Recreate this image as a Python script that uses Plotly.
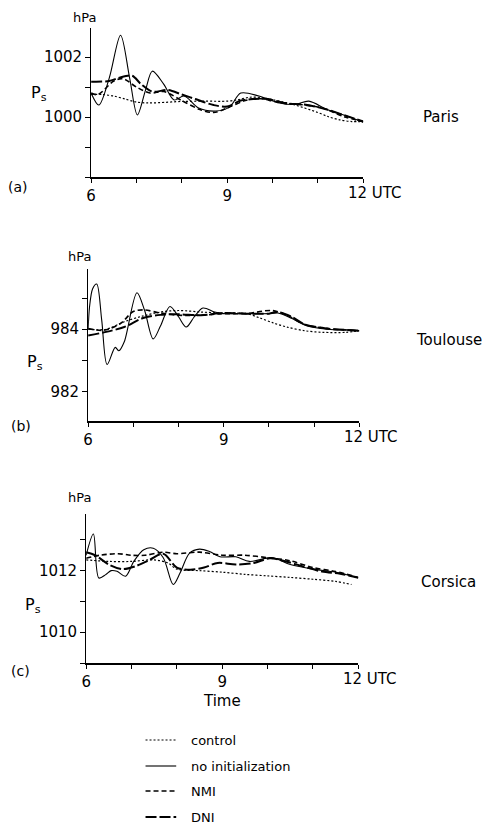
import plotly.graph_objects as go

# ---------------- data ----------------
# Panel (a) Paris
a_ctrl_t = [6, 6.25, 6.5, 6.75, 7, 7.25, 7.5, 8, 8.5, 9, 9.25, 9.5, 9.75, 10, 10.5, 11, 11.25, 11.5, 11.75, 12]
a_ctrl_v = [1000.75, 1000.75, 1000.7, 1000.6, 1000.5, 1000.47, 1000.48, 1000.52, 1000.53, 1000.53, 1000.58, 1000.66,
            1000.65, 1000.58, 1000.4, 1000.15, 1000.0, 999.9, 999.85, 999.85]
a_noin_t = [6, 6.17, 6.4, 6.65, 6.85, 7.02, 7.2, 7.35, 7.6, 7.83, 8.05, 8.37, 8.75, 9.05, 9.3, 9.7, 10.15, 10.5, 10.8,
            11.2, 11.6, 12]
a_noin_v = [1000.8, 1000.4, 1001.3, 1002.73, 1001.3, 1000.07, 1000.9, 1001.53, 1001.1, 1000.57, 1000.7, 1000.3, 1000.2,
            1000.33, 1000.8, 1000.7, 1000.47, 1000.42, 1000.53, 1000.25, 1000.05, 999.83]
a_nmi_t = [6, 6.15, 6.5, 6.7, 7.0, 7.3, 7.6, 8.0, 8.4, 8.7, 9.0, 9.4, 9.7, 10.1, 10.6, 11.1, 11.6, 12]
a_nmi_v = [1000.8, 1000.75, 1001.2, 1001.28, 1001.0, 1000.8, 1000.85, 1000.55, 1000.25, 1000.15, 1000.3, 1000.55,
           1000.62, 1000.5, 1000.42, 1000.3, 1000.0, 999.85]
a_dni_t = [6, 6.4, 6.6, 6.9, 7.1, 7.35, 7.7, 8.0, 8.3, 8.7, 9.0, 9.3, 9.6, 9.9, 10.3, 10.7, 11.2, 11.6, 12]
a_dni_v = [1001.18, 1001.2, 1001.3, 1001.38, 1001.1, 1000.85, 1000.9, 1000.75, 1000.6, 1000.4, 1000.35, 1000.55,
           1000.6, 1000.6, 1000.45, 1000.42, 1000.25, 1000.05, 999.85]

# Panel (b) Toulouse
b_ctrl_t = [6, 6.4, 6.8, 7.2, 7.6, 8.0, 8.5, 9.0, 9.5, 9.8, 10.1, 10.4, 10.8, 11.2, 11.7, 12]
b_ctrl_v = [984.0, 984.0, 984.24, 984.42, 984.55, 984.6, 984.55, 984.52, 984.5, 984.36, 984.2, 984.07, 983.95, 983.9,
            983.9, 983.95]
b_noin_t = [6, 6.03, 6.1, 6.19, 6.3, 6.42, 6.6, 6.68, 6.8, 7.08, 7.25, 7.44, 7.6, 7.81, 8.0, 8.17, 8.35, 8.54, 8.8, 9.0,
            9.5, 10.0, 10.2, 10.5, 10.8, 11.3, 11.9, 12]
b_noin_v = [984.0, 984.7, 985.3, 985.45, 984.3, 982.87, 983.42, 983.31, 983.6, 985.17, 984.6, 983.69, 984.1, 984.73,
            984.4, 984.07, 984.4, 984.68, 984.55, 984.5, 984.5, 984.5, 984.52, 984.35, 984.13, 984.0, 983.97, 983.95]
b_nmi_t = [6, 6.35, 6.72, 7.0, 7.23, 7.6, 8.0, 8.5, 9.0, 9.5, 10.07, 10.4, 10.8, 11.3, 11.8, 12]
b_nmi_v = [984.02, 983.97, 984.19, 984.57, 984.62, 984.52, 984.45, 984.45, 984.5, 984.5, 984.6, 984.45, 984.15, 984.02,
           983.97, 983.95]
b_dni_t = [6, 6.35, 6.8, 7.2, 7.6, 8.0, 8.5, 9.0, 9.5, 10.0, 10.2, 10.5, 10.8, 11.3, 11.8, 12]
b_dni_v = [983.8, 983.9, 984.07, 984.35, 984.46, 984.48, 984.45, 984.52, 984.5, 984.5, 984.55, 984.4, 984.15, 984.02,
           983.97, 983.95]

# Panel (c) Corsica
c_ctrl_t = [6, 6.5, 7.0, 7.5, 7.8, 8.0, 8.5, 9.0, 9.5, 10.0, 10.5, 11.0, 11.5, 11.85]
c_ctrl_v = [1012.35, 1012.3, 1012.3, 1012.35, 1012.25, 1012.05, 1012.0, 1011.95, 1011.88, 1011.83, 1011.78, 1011.72,
            1011.65, 1011.55]
c_noin_t = [6, 6.16, 6.28, 6.43, 6.55, 6.68, 6.87, 7.05, 7.27, 7.48, 7.7, 7.92, 8.07, 8.28, 8.5, 8.72, 8.95, 9.3, 9.6,
            10.1, 10.5, 11.0, 11.5, 12]
c_noin_v = [1012.5, 1013.19, 1011.76, 1011.87, 1012.0, 1011.98, 1011.82, 1012.3, 1012.68, 1012.73, 1012.42, 1011.55,
            1011.92, 1012.57, 1012.7, 1012.62, 1012.45, 1012.45, 1012.3, 1012.42, 1012.2, 1012.05, 1011.95, 1011.77]
c_nmi_t = [6, 6.3, 6.7, 7.0, 7.3, 7.7, 8.0, 8.5, 9.0, 9.5, 10.0, 10.5, 11.0, 11.5, 12]
c_nmi_v = [1012.4, 1012.5, 1012.55, 1012.5, 1012.5, 1012.6, 1012.55, 1012.6, 1012.5, 1012.5, 1012.42, 1012.32, 1012.1,
           1011.97, 1011.78]
c_dni_t = [6, 6.2, 6.5, 6.8, 7.1, 7.4, 7.7, 8.0, 8.3, 8.6, 8.9, 9.3, 9.7, 10.05, 10.4, 10.8, 11.2, 11.6, 12]
c_dni_v = [1012.6, 1012.5, 1012.2, 1012.05, 1012.15, 1012.35, 1012.55, 1012.1, 1012.03, 1012.1, 1012.25, 1012.2,
           1012.25, 1012.4, 1012.3, 1012.13, 1011.97, 1011.9, 1011.77]

stations = ["Paris", "Toulouse", "Corsica"]
panel_tags = ["(a)", "(b)", "(c)"]
series_names = ["control", "no initialization", "NMI", "DNI"]
x_major = [6, 9]
x_labels = ["6", "9"]
a_yticks = [1000, 1002]
b_yticks = [982, 984]
c_yticks = [1010, 1012]

# ---------------- layout helpers ----------------
W, H = 482, 838
def fx(px): return px / W
def fy(py): return 1 - py / H

FONT = "DejaVu Sans"
styles = {
    "control": dict(color="black", width=1.2, dash="2px,2px"),
    "no initialization": dict(color="black", width=1.1),
    "NMI": dict(color="black", width=1.6, dash="5px,3px"),
    "DNI": dict(color="black", width=2.0, dash="11px,3px"),
}

panels = [
    dict(data=[(a_ctrl_t, a_ctrl_v), (a_noin_t, a_noin_v), (a_nmi_t, a_nmi_v), (a_dni_t, a_dni_v)],
         xdom=(87, 362), ytop=28, ybot=177, yr=[998.0, 1002.97], yt=a_yticks),
    dict(data=[(b_ctrl_t, b_ctrl_v), (b_noin_t, b_noin_v), (b_nmi_t, b_nmi_v), (b_dni_t, b_dni_v)],
         xdom=(84, 358), ytop=269, ybot=421, yr=[981.06, 985.93], yt=b_yticks),
    dict(data=[(c_ctrl_t, c_ctrl_v), (c_noin_t, c_noin_v), (c_nmi_t, c_nmi_v), (c_dni_t, c_dni_v)],
         xdom=(82, 357), ytop=514, ybot=663, yr=[1009.0, 1013.84], yt=c_yticks),
]

fig = go.Figure()
layout = dict(width=W, height=H, margin=dict(l=0, r=0, t=0, b=0), showlegend=False,
              paper_bgcolor="white", plot_bgcolor="white",
              font=dict(family=FONT, size=15, color="black"))
annotations = []
shapes = []

for i, p in enumerate(panels):
    sfx = "" if i == 0 else str(i + 1)
    xa, ya = "x" + sfx, "y" + sfx
    for name, (t, v) in zip(series_names, p["data"]):
        fig.add_trace(go.Scatter(x=t, y=v, mode="lines", name=name, xaxis=xa, yaxis=ya,
                                 line=dict(shape="spline", smoothing=0.9, **styles[name])))
    layout["xaxis" + sfx] = dict(domain=[fx(p["xdom"][0]), fx(p["xdom"][1])], anchor=ya, range=[6, 12],
                                 tickvals=x_major, ticktext=x_labels, ticks="outside", ticklen=4,
                                 tickcolor="black", showline=True, linecolor="black", linewidth=1.5,
                                 minor=dict(tick0=6, dtick=1, ticks="outside", ticklen=4, tickcolor="black",
                                            showgrid=False),
                                 showgrid=False, zeroline=False, tickfont=dict(family=FONT, size=15))
    layout["yaxis" + sfx] = dict(domain=[fy(p["ybot"]), fy(p["ytop"])], anchor=xa, range=p["yr"],
                                 tickvals=p["yt"], ticks="outside", ticklen=5,
                                 tickcolor="black", showline=True, linecolor="black", linewidth=1,
                                 minor=dict(tick0=p["yt"][0], dtick=1, ticks="outside", ticklen=5,
                                            tickcolor="black", showgrid=False),
                                 showgrid=False, zeroline=False, tickfont=dict(family=FONT, size=15))
    # "12 UTC"
    annotations.append(dict(x=12, y=p["yr"][0], xref=xa, yref=ya, text="12 UTC", showarrow=False,
                            xanchor="left", yanchor="top", xshift=-17, yshift=-5,
                            font=dict(family=FONT, size=15)))

# text labels (hPa, Ps, panel tags, station names)
hpa_pos = [(80, 17), (75, 256), (75, 497)]
ps_pos = [(34, 93), (30, 362), (28, 605)]
tag_pos = [(13, 187), (16, 426), (16, 671)]
st_pos = [(420, 117), (413, 340), (418, 582)]
for i in range(3):
    annotations.append(dict(x=fx(hpa_pos[i][0]), y=fy(hpa_pos[i][1]), xref="paper", yref="paper", text="hPa",
                            showarrow=False, xanchor="center", yanchor="middle", font=dict(family=FONT, size=13)))
    annotations.append(dict(x=fx(ps_pos[i][0]), y=fy(ps_pos[i][1]), xref="paper", yref="paper",
                            text="P<sub>s</sub>", showarrow=False, xanchor="center", yanchor="middle",
                            font=dict(family=FONT, size=16)))
    annotations.append(dict(x=fx(tag_pos[i][0]), y=fy(tag_pos[i][1]), xref="paper", yref="paper",
                            text=panel_tags[i], showarrow=False, xanchor="center", yanchor="middle",
                            font=dict(family=FONT, size=14)))
    annotations.append(dict(x=fx(st_pos[i][0]), y=fy(st_pos[i][1]), xref="paper", yref="paper",
                            text=stations[i], showarrow=False, xanchor="left", yanchor="middle",
                            font=dict(family=FONT, size=15)))

annotations.append(dict(x=fx(219), y=fy(701), xref="paper", yref="paper", text="Time", showarrow=False,
                        xanchor="center", yanchor="middle", font=dict(family=FONT, size=15)))

# legend
leg_y = [740, 766, 791, 817]
for name, ly in zip(series_names, leg_y):
    st = styles[name]
    shapes.append(dict(type="line", xref="paper", yref="paper", x0=fx(142), x1=fx(173), y0=fy(ly), y1=fy(ly),
                       line=dict(color="black", width=st["width"], dash=st.get("dash", "solid"))))
    annotations.append(dict(x=fx(186), y=fy(ly), xref="paper", yref="paper", text=name, showarrow=False,
                            xanchor="left", yanchor="middle", font=dict(family=FONT, size=13)))

layout["annotations"] = annotations
layout["shapes"] = shapes
fig.update_layout(**layout)
fig.write_html("out.html")
